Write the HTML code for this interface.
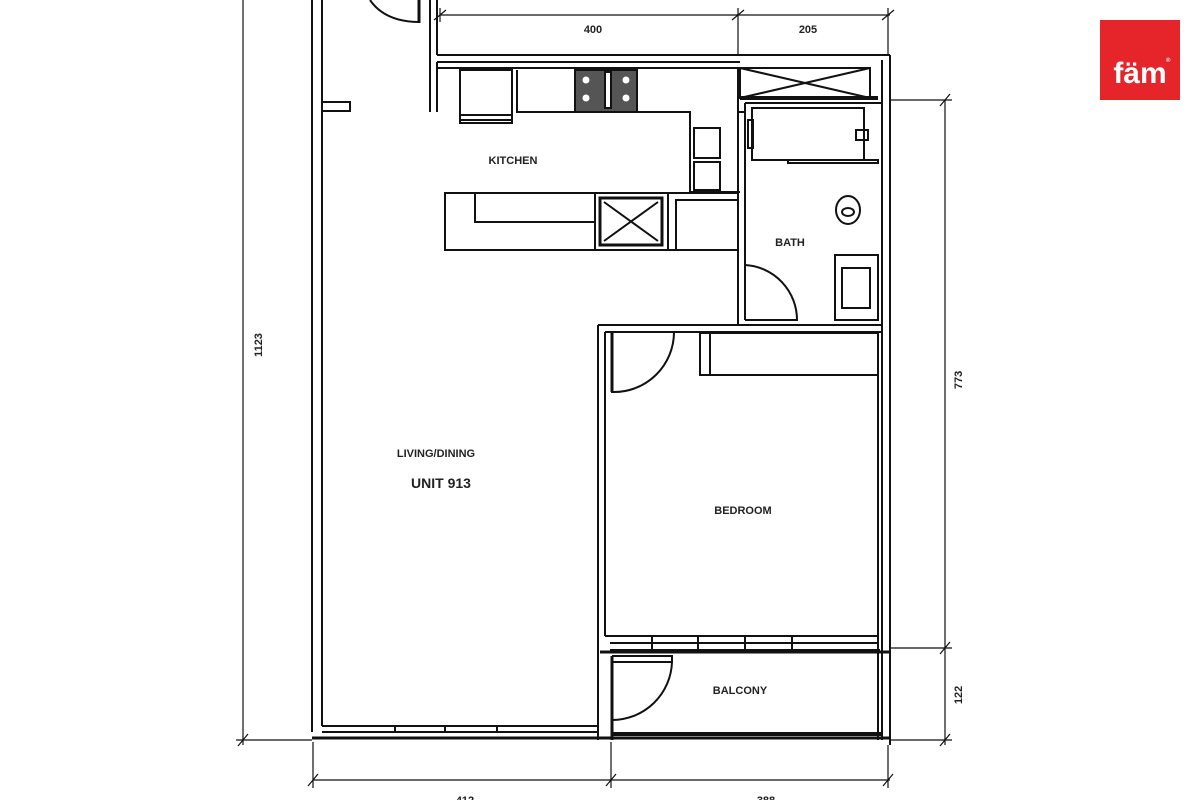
<!DOCTYPE html>
<html><head><meta charset="utf-8"><style>
html,body{margin:0;padding:0;background:#fff;width:1200px;height:800px;overflow:hidden}
svg{display:block}
text{font-family:"Liberation Sans",Arial,sans-serif;font-weight:bold;fill:#222}
</style></head><body>
<svg width="1200" height="800" viewBox="0 0 1200 800" xmlns="http://www.w3.org/2000/svg">
<g fill="none" stroke="#111" stroke-width="2">
<!-- left exterior wall -->
<line x1="312" y1="0" x2="312" y2="732"/>
<line x1="322" y1="0" x2="322" y2="726"/>
<path d="M322 102 H350 V111 H322"/>
<!-- entry door -->
<path d="M370 0 Q385 22 420 22"/>
<line x1="419" y1="0" x2="419" y2="23" stroke-width="3"/>
<line x1="430" y1="0" x2="430" y2="112"/>
<line x1="437" y1="0" x2="437" y2="55"/>
<path d="M437 55 H890 M437 62 V112 M437 62 H740"/>
<path d="M437 68 H738 V98"/>
<!-- top dimension -->
<line x1="440" y1="15" x2="890" y2="15" stroke-width="1.2"/>
<line x1="738" y1="8" x2="738" y2="55" stroke-width="1.2"/>
<line x1="888" y1="8" x2="888" y2="55" stroke-width="1.2"/>
<line x1="440" y1="8" x2="440" y2="22" stroke-width="1.2"/>
<path d="M434 20 L446 10 M732 20 L744 10 M882 20 L894 10" stroke-width="1.2"/>
<!-- right exterior wall -->
<line x1="882" y1="60" x2="882" y2="740"/>
<line x1="890" y1="55" x2="890" y2="745"/>
<!-- kitchen upper counter -->
<rect x="460" y="70" width="52" height="50"/>
<rect x="460" y="115" width="52" height="8"/>
<path d="M517 70 V112 H690 V192 H740"/>
<rect x="575" y="70" width="62" height="42" fill="#555"/>
<rect x="605" y="72" width="6" height="36" fill="#fff"/>
<g fill="#fff" stroke="#fff" stroke-width="1"><circle cx="586" cy="80" r="3"/><circle cx="586" cy="98" r="3"/><circle cx="626" cy="80" r="3"/><circle cx="626" cy="98" r="3"/></g>
<rect x="694" y="128" width="26" height="30"/>
<rect x="694" y="162" width="26" height="28"/>
<path d="M738 98 V112 H745"/>
<!-- lower counter -->
<rect x="445" y="193" width="293" height="57"/>
<path d="M475 193 V222 H595"/>
<line x1="595" y1="193" x2="595" y2="250"/>
<rect x="600" y="198" width="62" height="47" stroke-width="3"/>
<path d="M604 202 L658 241 M658 202 L604 241"/>
<line x1="668" y1="193" x2="668" y2="250"/>
<rect x="676" y="200" width="62" height="50"/>
<!-- bath -->
<rect x="740" y="68" width="130" height="30"/>
<path d="M740 68 L870 98 M870 68 L740 98"/>
<line x1="740" y1="98" x2="878" y2="98" stroke-width="4"/>
<line x1="738" y1="98" x2="738" y2="325"/>
<line x1="745" y1="103" x2="745" y2="320"/>
<line x1="745" y1="103" x2="882" y2="103"/>
<rect x="752" y="108" width="112" height="52"/>
<rect x="748" y="120" width="5" height="28"/>
<rect x="788" y="160" width="90" height="3"/>
<rect x="856" y="130" width="12" height="10"/>
<ellipse cx="848" cy="210" rx="12" ry="14"/>
<ellipse cx="848" cy="212" rx="6" ry="4"/>
<rect x="835" y="255" width="43" height="65"/>
<rect x="842" y="268" width="28" height="40"/>
<path d="M745 265 A55 55 0 0 1 797 320 H745"/>
<path d="M598 325 H882 M605 332 H882"/>
<!-- bedroom -->
<line x1="598" y1="325" x2="598" y2="740"/>
<line x1="605" y1="332" x2="605" y2="636"/>
<rect x="700" y="333" width="178" height="42"/>
<path d="M710 333 V375"/>
<path d="M612 332 V392 A60 60 0 0 0 674 332"/>
<line x1="612" y1="332" x2="612" y2="392" stroke-width="3"/>
<!-- bedroom window -->
<path d="M605 636 H878 M610 643 H878 M610 650 H880"/>
<path d="M652 636 V650 M698 636 V650 M745 636 V650 M792 636 V650"/>
<line x1="600" y1="652" x2="890" y2="652" stroke-width="3"/>
<line x1="878" y1="332" x2="878" y2="740"/>
<!-- balcony door -->
<path d="M612 656 H672 V662 H612"/>
<path d="M612 720 A60 60 0 0 0 672 662"/>
<line x1="612" y1="656" x2="612" y2="740" stroke-width="3"/>
<!-- bottom windows -->
<path d="M322 726 H598 M322 732 H598"/>
<path d="M395 726 V732 M445 726 V732 M497 726 V732"/>
<line x1="312" y1="738" x2="890" y2="738" stroke-width="3"/>
<line x1="612" y1="734" x2="882" y2="734" stroke-width="4"/>
<!-- left dimension -->
<line x1="243" y1="0" x2="243" y2="745" stroke-width="1.2"/>
<line x1="236" y1="740" x2="312" y2="740" stroke-width="1.2"/>
<path d="M238 746 L248 734" stroke-width="1.2"/>
<!-- right dimension -->
<line x1="945" y1="100" x2="945" y2="745" stroke-width="1.2"/>
<path d="M890 100 H952 M890 648 H952 M890 740 H952" stroke-width="1.2"/>
<path d="M940 106 L950 94 M940 654 L950 642 M940 746 L950 734" stroke-width="1.2"/>
<!-- bottom dimension -->
<line x1="313" y1="780" x2="890" y2="780" stroke-width="1.2"/>
<path d="M313 742 V788 M611 742 V788 M888 745 V788" stroke-width="1.2"/>
<path d="M308 786 L318 774 M606 786 L616 774 M883 786 L893 774" stroke-width="1.2"/>
</g>
<g font-size="11">
<text x="593" y="33" text-anchor="middle" font-weight="normal">400</text>
<text x="808" y="33" text-anchor="middle" font-weight="normal">205</text>
<text x="513" y="164" text-anchor="middle">KITCHEN</text>
<text x="790" y="246" text-anchor="middle">BATH</text>
<text x="436" y="457" text-anchor="middle">LIVING/DINING</text>
<text x="441" y="488" text-anchor="middle" font-size="14">UNIT 913</text>
<text x="743" y="514" text-anchor="middle">BEDROOM</text>
<text x="740" y="694" text-anchor="middle">BALCONY</text>
<text x="465" y="804" text-anchor="middle" font-weight="normal">412</text>
<text x="766" y="804" text-anchor="middle" font-weight="normal">388</text>
<text transform="translate(262,345) rotate(-90)" text-anchor="middle" font-weight="normal">1123</text>
<text transform="translate(962,380) rotate(-90)" text-anchor="middle" font-weight="normal">773</text>
<text transform="translate(962,695) rotate(-90)" text-anchor="middle" font-weight="normal">122</text>
</g>
<rect x="1100" y="20" width="80" height="80" fill="#e5252a"/>
<text x="1140" y="83" text-anchor="middle" font-size="30" style="fill:#fff">fäm</text>
<text x="1166" y="62" font-size="6" style="fill:#fff">®</text>
</svg>
</body></html>
